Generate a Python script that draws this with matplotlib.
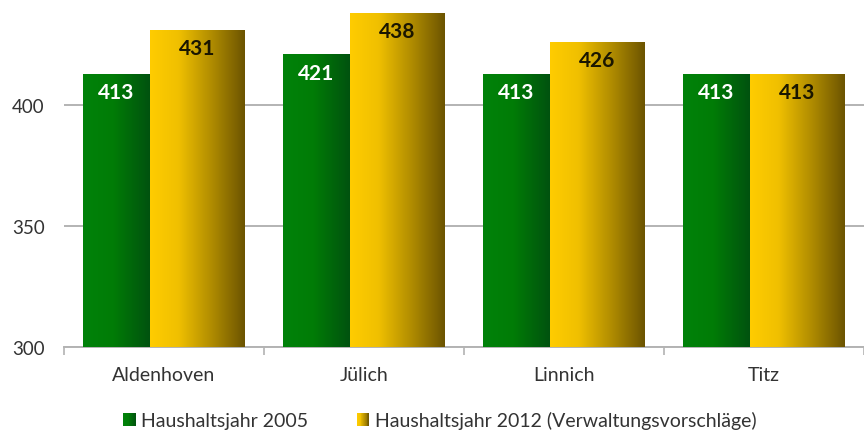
import numpy as np
import matplotlib
matplotlib.use("Agg")
import matplotlib.pyplot as plt
from matplotlib.colors import LinearSegmentedColormap
from matplotlib.patches import Rectangle
from matplotlib.legend_handler import HandlerBase

plt.rcParams['font.family'] = ['Lato', 'DejaVu Sans']

categories = ["Aldenhoven", "Jülich", "Linnich", "Titz"]
series_names = ["Haushaltsjahr 2005", "Haushaltsjahr 2012 (Verwaltungsvorschläge)"]
values_2005 = [413, 421, 413, 413]
values_2012 = [431, 438, 426, 413]
yticks = [300, 350, 400]

green_cmap = LinearSegmentedColormap.from_list(
    "g", [(0, "#00820a"), (0.45, "#007c06"), (1.0, "#00520f")])
gold_cmap = LinearSegmentedColormap.from_list(
    "y", [(0, "#ffcc00"), (0.3, "#f0c000"), (0.65, "#b08c00"), (1.0, "#6c5400")])

fig = plt.figure(figsize=(8.64, 4.35), dpi=100)
ax = fig.add_axes([64 / 864, 1 - 348 / 435, 1 - 64 / 864, 348 / 435])

x = np.arange(len(categories))
w_green = 0.335
w_gold = 0.475
left_off = -0.405

bars1 = ax.bar(x + left_off, [v - 300 for v in values_2005], bottom=300, width=w_green,
               align='edge', color='none', edgecolor='none', zorder=3)
bars2 = ax.bar(x + left_off + w_green, [v - 300 for v in values_2012], bottom=300, width=w_gold,
               align='edge', color='none', edgecolor='none', zorder=3)

grad = np.linspace(0, 1, 256).reshape(1, -1)
for bars, cmap in ((bars1, green_cmap), (bars2, gold_cmap)):
    for p in bars:
        x0, y0 = p.get_x(), p.get_y()
        x1, y1 = x0 + p.get_width(), y0 + p.get_height()
        im = ax.imshow(grad, extent=[x0, x1, y0, y1], aspect='auto', cmap=cmap,
                       zorder=3, interpolation='bicubic')
        im.set_clip_path(p)

for p, v in zip(bars1, values_2005):
    ax.annotate(str(v), (p.get_x() + p.get_width() / 2, v), xytext=(0, -13.5),
                textcoords='offset points', ha='center', va='center',
                fontsize=15, fontweight='bold', color='white', zorder=5)
for p, v in zip(bars2, values_2012):
    ax.annotate(str(v), (p.get_x() + p.get_width() / 2, v), xytext=(0, -13),
                textcoords='offset points', ha='center', va='center',
                fontsize=15, fontweight='bold', color='#1a1600', zorder=5)

ax.set_xlim(-0.5, -0.5 + 800 / 201)
ax.set_ylim(300, 300 + 348 / 2.42)

ax.set_yticks(yticks)
ax.set_yticklabels([str(t) for t in yticks])
ax.tick_params(axis='y', length=0, pad=14, labelsize=13.5, labelcolor='#333333')
ax.yaxis.grid(True, color='#b3b3b3', linewidth=1.4, zorder=0)
ax.set_axisbelow(True)

ax.set_xticks(np.arange(len(categories) + 1) - 0.5)
ax.set_xticklabels([])
ax.set_xticks(x, minor=True)
ax.set_xticklabels(categories, minor=True)
ax.tick_params(axis='x', which='major', length=6, color='#b3b3b3', width=1.2)
ax.tick_params(axis='x', which='minor', length=0, pad=14, labelsize=14, labelcolor='#333333')

for s in ['top', 'right', 'left']:
    ax.spines[s].set_visible(False)
ax.spines['bottom'].set_color('#b3b3b3')
ax.spines['bottom'].set_linewidth(1.4)


class GradHandler(HandlerBase):
    def __init__(self, cmap):
        super().__init__()
        self.cmap = cmap

    def create_artists(self, legend, orig_handle, xdescent, ydescent, width, height, fontsize, trans):
        n = 14
        arts = []
        for i in range(n):
            r = Rectangle((-xdescent + width * i / n, -ydescent), width / n * 1.1, height,
                          facecolor=self.cmap((i + 0.5) / n), edgecolor='none', transform=trans)
            arts.append(r)
        return arts


h1 = Rectangle((0, 0), 1, 1)
h2 = Rectangle((0, 0), 1, 1)
fig.legend([h1, h2], series_names, loc='center', bbox_to_anchor=(440 / 864, 1 - 421 / 435),
           ncol=2, frameon=False, fontsize=14, handlelength=0.62, handleheight=0.65,
           handletextpad=0.3, columnspacing=2.5, labelcolor='#333333',
           handler_map={h1: GradHandler(green_cmap), h2: GradHandler(gold_cmap)})

fig.savefig("out.png", dpi=100)
